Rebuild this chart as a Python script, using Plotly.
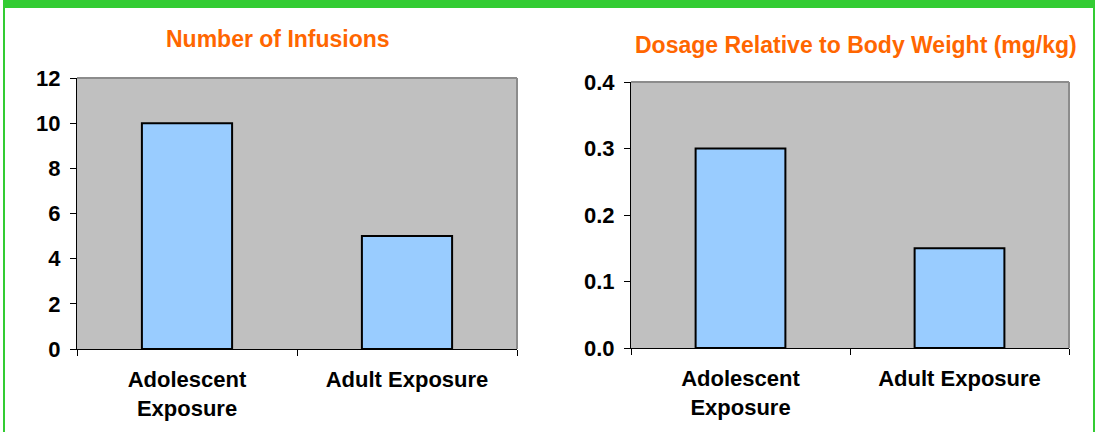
import plotly.graph_objects as go

# Data
groups = ["Adolescent<br>Exposure", "Adult Exposure"]
infusions = [10, 5]
dosage_mg_per_kg = [0.3, 0.15]

titles = ["Number of Infusions", "Dosage Relative to Body Weight (mg/kg)"]
infusion_ticks = [0, 2, 4, 6, 8, 10, 12]
dosage_ticks = [0.0, 0.1, 0.2, 0.3, 0.4]

W, H = 1104, 432
FONT = "Liberation Sans, Arial, sans-serif"
ORANGE = "#FF6600"
GREEN = "#33CC33"
BAR = "#99CCFF"
PLOT_BG = "#C0C0C0"


def px_x(p):
    return p / W


def px_y(p):
    return 1 - p / H


fig = go.Figure()

fig.add_trace(go.Bar(
    x=groups, y=infusions, xaxis="x", yaxis="y", width=0.41,
    marker=dict(color=BAR, line=dict(color="black", width=2)),
    showlegend=False, hoverinfo="x+y",
))
fig.add_trace(go.Bar(
    x=groups, y=dosage_mg_per_kg, xaxis="x2", yaxis="y2", width=0.41,
    marker=dict(color=BAR, line=dict(color="black", width=2)),
    showlegend=False, hoverinfo="x+y",
))

tick_font = dict(family=FONT, size=22, color="black", weight="bold")
xcat_font = dict(family=FONT, size=22, color="black", weight="bold")

common_x = dict(
    type="category", showgrid=False, zeroline=False, showline=True,
    linecolor="black", linewidth=1, ticks="outside", tickson="boundaries",
    ticklen=6, tickcolor="black", tickfont=xcat_font, automargin=False,
    fixedrange=True, ticklabelstandoff=11,
)
common_y = dict(
    showgrid=False, zeroline=False, showline=True, linecolor="black",
    linewidth=1, ticks="outside", ticklen=6, tickcolor="black",
    tickfont=tick_font, automargin=False, fixedrange=True,
    ticklabelstandoff=5,
)

fig.update_layout(
    width=W, height=H,
    margin=dict(l=0, r=0, t=0, b=0),
    paper_bgcolor="white", plot_bgcolor=PLOT_BG,
    bargap=0.59,
    xaxis=dict(common_x, domain=[px_x(77), px_x(517)], anchor="y"),
    yaxis=dict(common_y, domain=[px_y(349), px_y(78)], anchor="x",
               range=[0, 12], tickvals=infusion_ticks),
    xaxis2=dict(common_x, domain=[px_x(631), px_x(1069)], anchor="y2"),
    yaxis2=dict(common_y, domain=[px_y(348), px_y(82)], anchor="x2",
                range=[0, 0.4], tickvals=dosage_ticks, tickformat=".1f"),
)

# Chart titles
title_font = dict(family=FONT, size=23, color=ORANGE, weight="bold")
fig.add_annotation(text=titles[0], x=px_x(277.5), y=px_y(39),
                   xref="paper", yref="paper", showarrow=False,
                   xanchor="center", yanchor="middle", font=title_font)
fig.add_annotation(text=titles[1], x=px_x(855.5), y=px_y(45),
                   xref="paper", yref="paper", showarrow=False,
                   xanchor="center", yanchor="middle", font=title_font)

shapes = []
# Gray frame on top and right edges of each plot area
for xr, yr in (("x domain", "y domain"), ("x2 domain", "y2 domain")):
    shapes.append(dict(type="line", xref=xr, yref=yr, x0=0, x1=1, y0=1, y1=1,
                       line=dict(color="#8C8C8C", width=2)))
    shapes.append(dict(type="line", xref=xr, yref=yr, x0=1, x1=1, y0=0, y1=1,
                       line=dict(color="#8C8C8C", width=2)))

# Green page border: thick band on top, thin rules on both sides
for x0, x1, y0, y1 in ((3, 1095, 0, 8), (3, 5, 0, H), (1093, 1095, 0, H)):
    shapes.append(dict(type="rect", xref="paper", yref="paper",
                       x0=px_x(x0), x1=px_x(x1), y0=px_y(y1), y1=px_y(y0),
                       line=dict(width=0), fillcolor=GREEN, layer="above"))

fig.update_layout(shapes=shapes)

fig.write_html("out.html")
